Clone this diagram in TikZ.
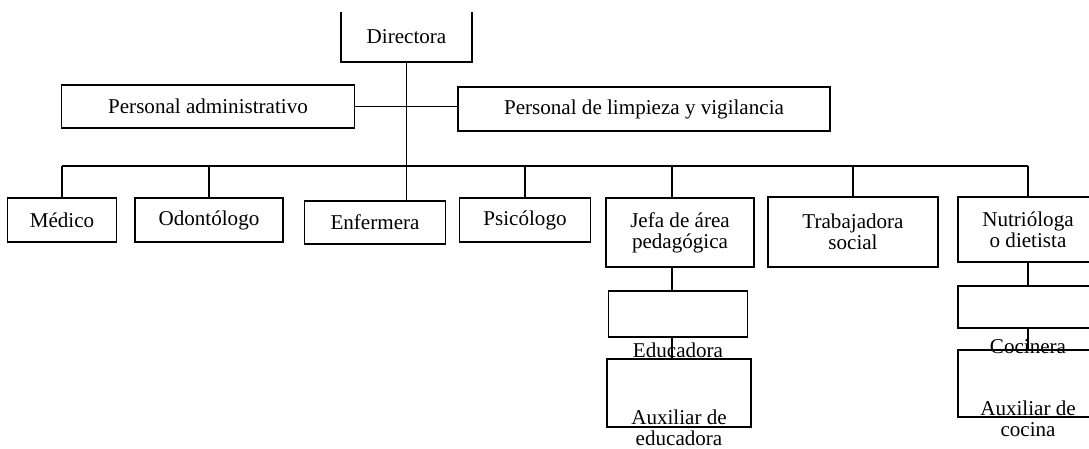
\documentclass[tikz,border=0pt]{standalone}
\usepackage{fontspec}
\setmainfont{Liberation Serif}
\usetikzlibrary{positioning}
\newcommand{\pxu}{0.02cm}
\tikzset{
	orgbox/.style={draw, line width=0.9pt, inner sep=0pt, align=center, font=\fontsize{12}{12}\selectfont},
	under/.style={draw=none, inner sep=0pt, align=center, font=\fontsize{12}{12}\selectfont},
	link/.style={line width=0.6pt}
}
\begin{document}
\begin{tikzpicture}[x=\pxu, y=-\pxu]
	\useasboundingbox (0,0) rectangle (1089,449);
	\clip (0,0) rectangle (1089,449);

	\node[orgbox, draw=none, minimum width=129*\pxu, minimum height=48*\pxu] (dir) at (406.5,37) {Directora};
	\draw[line width=0.9pt] (dir.north west) -- (dir.south west) -- (dir.south east) -- (dir.north east);

	\node[orgbox, minimum width=293*\pxu, minimum height=43*\pxu] (admin) at (208,106.5) {Personal administrativo};
	\node[orgbox, minimum width=372*\pxu, minimum height=44*\pxu] (limp) at (644,109) {Personal de limpieza y vigilancia};

	\node[orgbox, minimum width=109*\pxu, minimum height=44*\pxu] (medico) at (62,220) {Médico};
	\node[orgbox, minimum width=148*\pxu, minimum height=44*\pxu] (odont) at (209,220) {Odontólogo};
	\node[orgbox, minimum width=141*\pxu, minimum height=43*\pxu] (enf) at (375,222.5) {Enfermera};
	\node[orgbox, minimum width=131*\pxu, minimum height=44*\pxu] (psic) at (525,220) {Psicólogo};
	\node[orgbox, minimum width=148*\pxu, minimum height=69*\pxu] (jefa) at (680,232.5) {Jefa de área\\pedagógica};
	\node[orgbox, minimum width=170*\pxu, minimum height=70*\pxu] (trab) at (853,232) {Trabajadora\\social};
	\node[orgbox, minimum width=140*\pxu, minimum height=65*\pxu] (nutri) at (1028,229.5) {Nutrióloga\\o dietista};

	\node[orgbox, minimum width=139*\pxu, minimum height=46*\pxu, label={[under, yshift=-5*\pxu]below:Educadora}] (educ) at (678,314) {};
	\node[orgbox, minimum width=144*\pxu, minimum height=68*\pxu, label={[under, yshift=18*\pxu]below:{Auxiliar de\\educadora}}] (auxed) at (679,393) {};
	\node[orgbox, minimum width=140*\pxu, minimum height=42*\pxu, label={[under, yshift=-10*\pxu]below:Cocinera}] (cocin) at (1028,307) {};
	\node[orgbox, minimum width=140*\pxu, minimum height=67*\pxu, label={[under, yshift=17*\pxu]below:{Auxiliar de\\cocina}}] (auxcoc) at (1028,383.5) {};

	\coordinate (bar) at (0,166);
	\coordinate (pedlink) at (672,166);
	\draw[link] (dir.south) -- (dir.south |- enf.north);
	\draw[link] (admin.east) -- (admin.east -| limp.west);
	\draw[link] (medico.north |- bar) -- (nutri.north |- bar);
	\foreach \n in {medico, odont, psic, trab, nutri}
		\draw[link] (\n.north) -- (\n.north |- bar);
	\draw[link] (pedlink) -- (pedlink |- jefa.north);
	\draw[link] (pedlink |- jefa.south) -- (pedlink |- educ.north);
	\draw[link] (pedlink |- educ.south) -- (pedlink |- auxed.north);
	\draw[link] (nutri.south) -- (cocin.north);
	\draw[link] (cocin.south) -- (auxcoc.north);
\end{tikzpicture}
\end{document}
